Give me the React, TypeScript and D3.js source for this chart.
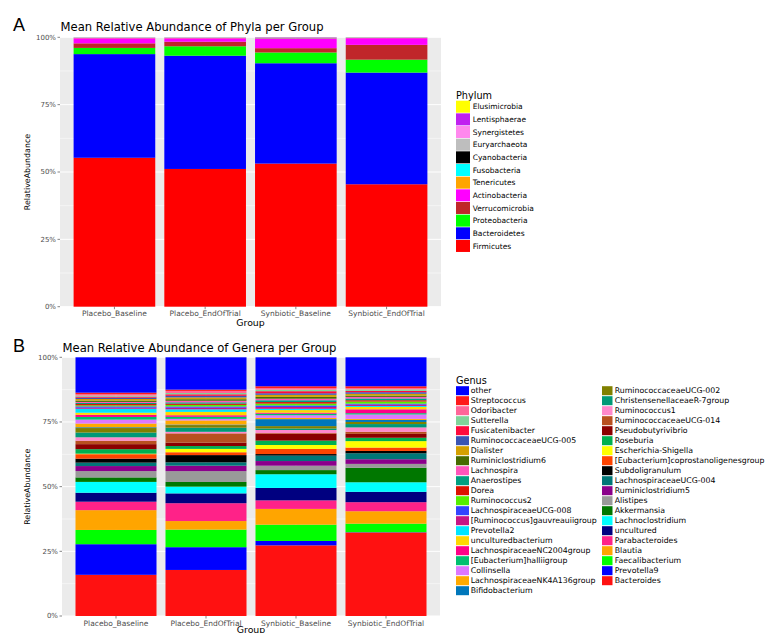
import React from 'react';
import * as d3 from 'd3';

const groups = ['Placebo_Baseline', 'Placebo_EndOfTrial', 'Synbiotic_Baseline', 'Synbiotic_EndOfTrial'];
const yTicks = [0, 0.25, 0.5, 0.75, 1];
const yMinorTicks = [0.125, 0.375, 0.625, 0.875];

// Phyla in legend order (top of stack first)
const phyla = ['Elusimicrobia', 'Lentisphaerae', 'Synergistetes', 'Euryarchaeota', 'Cyanobacteria', 'Fusobacteria', 'Tenericutes', 'Actinobacteria', 'Verrucomicrobia', 'Proteobacteria', 'Bacteroidetes', 'Firmicutes'];
const phylaColors = ['#FFFF00', '#C020F0', '#FF88EE', '#BEBEBE', '#000000', '#00FFFF', '#FFA500', '#FF00FF', '#C0262A', '#00FF00', '#0000FF', '#FF0000'];
const phylaPlaceboBaseline = [0.0001, 0.0002, 0.0006, 0.0005, 0.0005, 0.0005, 0.001, 0.019, 0.017, 0.023, 0.385, 0.553];
const phylaPlaceboEnd = [0.0001, 0.0002, 0.0006, 0.0005, 0.0005, 0.0005, 0.001, 0.013, 0.017, 0.035, 0.421, 0.512];
const phylaSynbioticBaseline = [0.0001, 0.001, 0.0003, 0.0005, 0.001, 0.0005, 0.001, 0.036, 0.016, 0.040, 0.373, 0.532];
const phylaSynbioticEnd = [0.0001, 0.0002, 0.0003, 0.0005, 0.0005, 0.0005, 0.001, 0.025, 0.055, 0.048, 0.415, 0.455];

// Genera in legend order (top of stack first)
const genera = ['other', 'Streptococcus', 'Odoribacter', 'Sutterella', 'Fusicatenibacter', 'RuminococcaceaeUCG-005', 'Dialister', 'Ruminiclostridium6', 'Lachnospira', 'Anaerostipes', 'Dorea', 'Ruminococcus2', 'LachnospiraceaeUCG-008', '[Ruminococcus]gauvreauiigroup', 'Prevotella2', 'unculturedbacterium', 'LachnospiraceaeNC2004group', '[Eubacterium]halliigroup', 'Collinsella', 'LachnospiraceaeNK4A136group', 'Bifidobacterium', 'RuminococcaceaeUCG-002', 'ChristensenellaceaeR-7group', 'Ruminococcus1', 'RuminococcaceaeUCG-014', 'Pseudobutyrivibrio', 'Roseburia', 'Escherichia-Shigella', '[Eubacterium]coprostanoligenesgroup', 'Subdoligranulum', 'LachnospiraceaeUCG-004', 'Ruminiclostridium5', 'Alistipes', 'Akkermansia', 'Lachnoclostridium', 'uncultured', 'Parabacteroides', 'Blautia', 'Faecalibacterium', 'Prevotella9', 'Bacteroides'];
const generaColors = ['#0000FF', '#FF1A1A', '#FF6699', '#7FD49A', '#FF0A3C', '#3A55B4', '#D4A000', '#476B00', '#FF55BB', '#00A080', '#DD1100', '#55EE00', '#3344FF', '#C71585', '#00E5FF', '#FFD700', '#FF0088', '#00C070', '#DD77FF', '#FFAA00', '#0077BB', '#808000', '#009977', '#FF88CC', '#B85020', '#8B0000', '#00B050', '#FFFF00', '#FF4400', '#000000', '#007777', '#8B008B', '#999999', '#007700', '#00FFFF', '#000080', '#FF2288', '#FFA500', '#00FF00', '#0000FF', '#FF1111'];
const generaPlaceboBaseline = [0.134, 0.006, 0.005, 0.004, 0.004, 0.005, 0.006, 0.005, 0.004, 0.004, 0.005, 0.004, 0.005, 0.004, 0.015, 0.008, 0.008, 0.010, 0.015, 0.014, 0.003, 0.017, 0.018, 0.013, 0.013, 0.019, 0.017, 0.002, 0.017, 0.015, 0.013, 0.019, 0.024, 0.017, 0.041, 0.034, 0.032, 0.075, 0.054, 0.116, 0.156];
const generaPlaceboEnd = [0.125, 0.005, 0.008, 0.005, 0.006, 0.006, 0.007, 0.006, 0.006, 0.005, 0.005, 0.006, 0.005, 0.006, 0.010, 0.013, 0.006, 0.008, 0.006, 0.016, 0.002, 0.010, 0.016, 0.006, 0.036, 0.013, 0.011, 0.013, 0.011, 0.028, 0.013, 0.021, 0.042, 0.018, 0.026, 0.038, 0.069, 0.033, 0.068, 0.088, 0.178];
const generaSynbioticBaseline = [0.112, 0.007, 0.006, 0.006, 0.008, 0.006, 0.008, 0.007, 0.006, 0.007, 0.006, 0.007, 0.006, 0.007, 0.005, 0.010, 0.004, 0.006, 0.010, 0.005, 0.027, 0.009, 0.006, 0.012, 0.003, 0.026, 0.017, 0.015, 0.020, 0.006, 0.021, 0.018, 0.017, 0.016, 0.053, 0.048, 0.033, 0.061, 0.063, 0.017, 0.273];
const generaSynbioticEnd = [0.112, 0.007, 0.005, 0.006, 0.005, 0.006, 0.007, 0.005, 0.006, 0.007, 0.005, 0.008, 0.004, 0.005, 0.004, 0.009, 0.015, 0.005, 0.017, 0.004, 0.008, 0.008, 0.013, 0.017, 0.008, 0.015, 0.013, 0.025, 0.013, 0.009, 0.023, 0.018, 0.015, 0.056, 0.037, 0.040, 0.035, 0.048, 0.033, 0.001, 0.323];

const FONT = 'DejaVu Sans, sans-serif';

type PanelProps = {
  x0: number; x1: number; y0: number; y1: number;
  names: string[]; colors: string[]; values: number[][];
  title: string; letter: string; titleY: number; letterY: number; groupTitleY: number;
};

function StackedPanel({ x0, x1, y0, y1, names, colors, values, title, letter, titleY, letterY, groupTitleY }: PanelProps) {
  const x = d3.scaleBand<string>().domain(groups).range([x0, x1]).paddingInner(0.1).paddingOuter(0.15);
  const y = d3.scaleLinear().domain([0, 1]).range([y1, y0]);
  const rows = groups.map((g, gi) => {
    const tot = d3.sum(values[gi]);
    const r: any = { group: g };
    names.forEach((n, i) => { r[n] = values[gi][i] / tot; });
    return r;
  });
  const keys = names.slice().reverse();
  const series = d3.stack<any>().keys(keys)(rows);
  const colorOf = d3.scaleOrdinal<string, string>().domain(names).range(colors);
  const fmt = d3.format('.0%');
  return (
    <g>
      <text x={13} y={letterY} fontFamily="Liberation Sans, Arial, sans-serif" fontSize={18}>{letter}</text>
      <text x={x0 + 0.5} y={titleY} fontFamily={FONT} fontSize={11.6} fill="#000">{title}</text>
      <rect x={x0} y={y0} width={x1 - x0} height={y1 - y0} fill="#EBEBEB" />
      {yMinorTicks.map(t => (
        <line key={'m' + t} x1={x0} x2={x1} y1={y(t)} y2={y(t)} stroke="#fff" strokeWidth={0.5} />
      ))}
      {yTicks.map(t => (
        <line key={'M' + t} x1={x0} x2={x1} y1={y(t)} y2={y(t)} stroke="#fff" strokeWidth={1} />
      ))}
      {groups.map(g => (
        <line key={'v' + g} x1={x.bandwidth() / 2 + (x(g) as number)} x2={x.bandwidth() / 2 + (x(g) as number)} y1={y0} y2={y1} stroke="#fff" strokeWidth={1} />
      ))}
      {series.map(s => (
        <g key={s.key} fill={colorOf(s.key)}>
          {s.map((d, i) => (
            <rect key={i} x={x(groups[i])} width={x.bandwidth()} y={y(d[1])} height={Math.max(0, y(d[0]) - y(d[1]))} />
          ))}
        </g>
      ))}
      {yTicks.map(t => (
        <g key={'t' + t}>
          <line x1={x0 - 2.5} x2={x0} y1={y(t)} y2={y(t)} stroke="#333" strokeWidth={0.6} />
          <text x={x0 - 4} y={y(t)} dy="0.35em" textAnchor="end" fontFamily={FONT} fontSize={7} fill="#4D4D4D">{fmt(t)}</text>
        </g>
      ))}
      {groups.map(g => {
        const cx = (x(g) as number) + x.bandwidth() / 2;
        return (
          <g key={'x' + g}>
            <line x1={cx} x2={cx} y1={y1} y2={y1 + 2.5} stroke="#333" strokeWidth={0.6} />
            <text x={cx} y={y1 + 9.5} textAnchor="middle" fontFamily={FONT} fontSize={7.5} fill="#4D4D4D">{g}</text>
          </g>
        );
      })}
      <text x={(x0 + x1) / 2} y={groupTitleY} textAnchor="middle" fontFamily={FONT} fontSize={9.4} fill="#000">Group</text>
      <text transform={`translate(${29.5},${(y0 + y1) / 2}) rotate(-90)`} textAnchor="middle" fontFamily={FONT} fontSize={7.9} fill="#000">RelativeAbundance</text>
    </g>
  );
}

export default function App() {
  const phylaValues = [phylaPlaceboBaseline, phylaPlaceboEnd, phylaSynbioticBaseline, phylaSynbioticEnd];
  const generaValues = [generaPlaceboBaseline, generaPlaceboEnd, generaSynbioticBaseline, generaSynbioticEnd];
  const col1 = genera.slice(0, 21);
  const col2 = genera.slice(21);
  return (
    <svg width={766} height={633} style={{ position: 'absolute', left: 0, top: 0, background: '#fff' }}>
      <rect width={766} height={633} fill="#fff" />
      <StackedPanel x0={60} x1={441} y0={37.3} y1={306.7} names={phyla} colors={phylaColors} values={phylaValues}
        title="Mean Relative Abundance of Phyla per Group" letter="A" titleY={30.5} letterY={31} groupTitleY={326} />
      <StackedPanel x0={62} x1={440} y0={357.3} y1={616} names={genera} colors={generaColors} values={generaValues}
        title="Mean Relative Abundance of Genera per Group" letter="B" titleY={351.5} letterY={352} groupTitleY={632.5} />
      {/* Phylum legend */}
      <g>
        <text x={456} y={98.5} fontFamily={FONT} fontSize={9.7}>Phylum</text>
        {phyla.map((p, i) => {
          const cy = 106.7 + i * 12.66;
          return (
            <g key={p}>
              <rect x={456} y={cy - 6} width={14} height={12} fill={phylaColors[i]} />
              <text x={472.7} y={cy} dy="0.35em" fontFamily={FONT} fontSize={7.5}>{p}</text>
            </g>
          );
        })}
      </g>
      {/* Genus legend */}
      <g>
        <text x={456} y={383.5} fontFamily={FONT} fontSize={9.7}>Genus</text>
        {col1.map((p, i) => {
          const cy = 390.7 + i * 10;
          return (
            <g key={p}>
              <rect x={456} y={cy - 4.5} width={13} height={9} fill={generaColors[i]} />
              <text x={470.7} y={cy} dy="0.35em" fontFamily={FONT} fontSize={7.8}>{p}</text>
            </g>
          );
        })}
        {col2.map((p, i) => {
          const cy = 390.7 + i * 10;
          return (
            <g key={p}>
              <rect x={602} y={cy - 4.5} width={10.5} height={9} fill={generaColors[21 + i]} />
              <text x={614.7} y={cy} dy="0.35em" fontFamily={FONT} fontSize={7.8}>{p}</text>
            </g>
          );
        })}
      </g>
    </svg>
  );
}
